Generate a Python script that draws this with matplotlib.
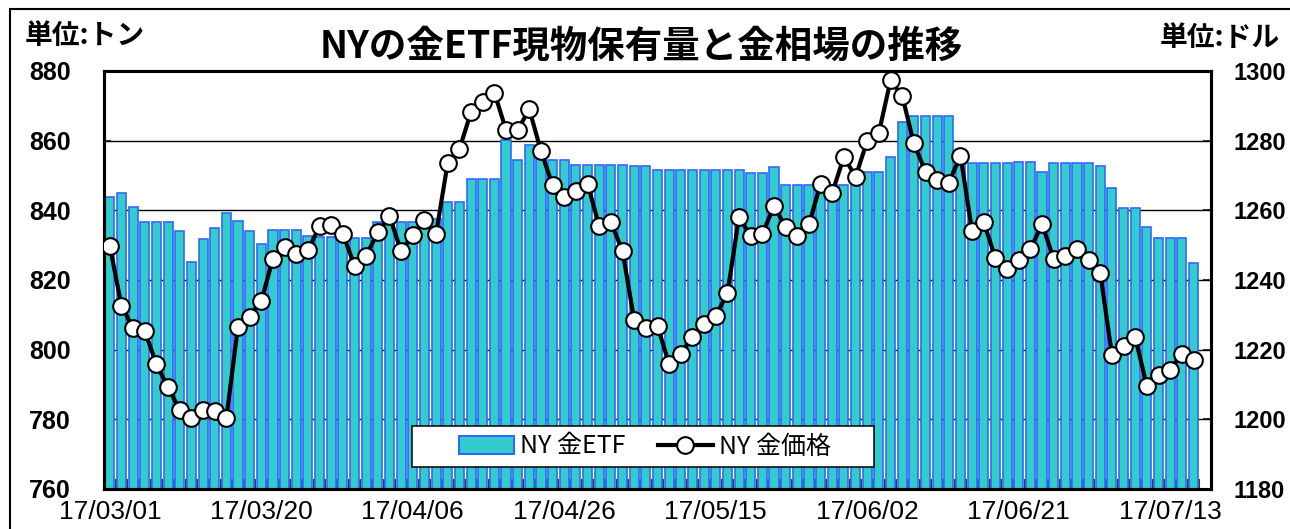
import matplotlib
matplotlib.use("Agg")
import matplotlib.pyplot as plt
import numpy as np
from matplotlib.lines import Line2D
from matplotlib.patches import Rectangle

plt.rcParams["font.family"] = ["Noto Sans CJK JP", "DejaVu Sans"]

# category labels shown every 13 trading days
date_labels = ["17/03/01", "17/03/20", "17/04/06", "17/04/26",
               "17/05/15", "17/06/02", "17/06/21", "17/07/13"]
label_step = 13
n_slots = 95

# NY gold ETF holdings (tons), left axis
etf_tons = [
    843.8, 845.1, 841.0, 836.6, 836.6, 836.6, 834.0, 825.3, 831.8, 834.9,
    839.2, 836.9, 834.0, 830.4, 834.4, 834.4, 834.4, 832.5, 832.3, 832.3,
    832.3, 832.1, 832.1, 836.6, 836.6, 836.6, 836.6, 836.6, 837.5, 842.5,
    842.5, 849.0, 849.0, 849.0, 860.3, 854.4, 858.8, 857.0, 854.4, 854.4,
    853.0, 853.0, 853.0, 853.0, 853.0, 852.7, 852.7, 851.7, 851.7, 851.7,
    851.7, 851.7, 851.7, 851.7, 851.7, 850.6, 850.6, 852.5, 847.2, 847.2,
    847.2, 847.2, 847.2, 847.2, 847.2, 851.1, 851.1, 855.3, 865.3, 867.1,
    867.1, 867.1, 867.1, 853.5, 853.7, 853.7, 853.7, 853.7, 854.0, 854.0,
    851.1, 853.7, 853.7, 853.7, 853.7, 852.6, 846.3, 840.8, 840.8, 835.2,
    832.1, 832.1, 832.1, 825.0,
]

# NY gold price (USD), right axis
gold_price = [
    1249.7, 1232.6, 1226.2, 1225.4, 1215.8, 1209.2, 1202.6, 1200.4, 1202.6, 1202.3,
    1200.4, 1226.6, 1229.5, 1234.0, 1246.1, 1249.4, 1247.5, 1248.5, 1255.5, 1255.7,
    1253.3, 1244.1, 1247.0, 1253.7, 1258.4, 1248.2, 1253.0, 1257.1, 1253.3, 1273.7,
    1277.6, 1288.2, 1291.2, 1293.8, 1283.1, 1283.1, 1289.0, 1277.0, 1267.2, 1263.8,
    1265.6, 1267.7, 1255.4, 1256.6, 1248.3, 1228.5, 1226.3, 1226.8, 1215.8, 1218.7,
    1223.7, 1227.5, 1229.7, 1236.2, 1258.1, 1252.6, 1253.3, 1261.2, 1255.2, 1252.5,
    1256.0, 1267.7, 1265.1, 1275.4, 1269.6, 1280.0, 1282.3, 1297.3, 1292.9, 1279.2,
    1271.1, 1268.6, 1267.9, 1275.7, 1254.0, 1256.6, 1246.3, 1243.2, 1245.6, 1248.9,
    1256.0, 1246.1, 1246.8, 1248.9, 1245.8, 1241.9, 1218.5, 1221.1, 1223.5, 1209.5,
    1212.7, 1214.3, 1218.8, 1216.9,
]

TEAL = "#33CCCC"
BLUE = "#3366FF"
W, H = 1290, 529

fig = plt.figure(figsize=(W / 100, H / 100), dpi=100)
ax = fig.add_axes([104 / W, 1 - 489 / H, (1211 - 104) / W, (489 - 71) / H])

x = np.arange(len(etf_tons))
ax.bar(x, np.array(etf_tons) - 760, bottom=760, width=0.78,
       color=TEAL, edgecolor=BLUE, linewidth=1.2, zorder=2)
ax.set_xlim(-0.5, n_slots - 0.5)
ax.set_ylim(760, 880)
ax.set_yticks(np.arange(760, 881, 20))
ax.yaxis.grid(True, color="black", linewidth=1.0)
ax.set_axisbelow(True)

ax.set_xticks(np.arange(len(date_labels)) * label_step)
ax.set_xticklabels(date_labels, family="Liberation Sans", fontsize=19)
ax.set_xticks(np.arange(-1, len(etf_tons)) + 0.5, minor=True)
ax.tick_params(axis="x", which="major", length=0, pad=8)
ax.tick_params(axis="x", which="minor", direction="in", length=7,
               width=1.1, color="black")
ax.tick_params(axis="y", direction="in", length=5, width=1.1, pad=24)
for lab in ax.get_yticklabels():
    lab.set_fontfamily("Liberation Sans")
    lab.set_fontweight("bold")
    lab.set_fontsize(18)

ax2 = ax.twinx()
ax2.plot(x, gold_price, color="black", linewidth=3, marker="o",
         markersize=12, markerfacecolor="white", markeredgecolor="black",
         markeredgewidth=1.5, zorder=3)
ax2.set_ylim(1180, 1300)
ax2.set_yticks(np.arange(1180, 1301, 20))
ax2.tick_params(axis="y", direction="in", length=6, width=1.1, pad=16)
for lab in ax2.get_yticklabels():
    lab.set_fontfamily("Liberation Sans")
    lab.set_fontweight("bold")
    lab.set_fontsize(17)

for a in (ax, ax2):
    for sp in a.spines.values():
        sp.set_linewidth(2.2)
        sp.set_color("black")

# legend with a square white box
box = Rectangle((412 / W, 1 - 467 / H), (874 - 412) / W, 41 / H,
                transform=fig.transFigure, facecolor="white",
                edgecolor="black", linewidth=1.1, zorder=4, clip_on=False)
ax2.add_artist(box)
handles = [
    Rectangle((0, 0), 1, 1, facecolor=TEAL, edgecolor=BLUE, linewidth=1.5),
    Line2D([], [], color="black", linewidth=3, marker="o", markersize=12,
           markerfacecolor="white", markeredgecolor="black",
           markeredgewidth=1.5),
]
ax2.legend(handles, ["NY 金ETF", "NY 金価格"], loc="center",
           bbox_to_anchor=(645 / W, 1 - 446.5 / H),
           bbox_transform=fig.transFigure, frameon=False, ncol=2,
           fontsize=18, handlelength=2.2, handletextpad=0.25,
           columnspacing=1.3)

fig.text(641 / W, 1 - 46 / H, "NYの金ETF現物保有量と金相場の推移",
         ha="center", va="center", fontsize=27, fontweight="bold")
fig.text(25 / W, 1 - 36 / H, "単位:トン", ha="left", va="center",
         fontsize=20, fontweight="bold")
fig.text(1160 / W, 1 - 38 / H, "単位:ドル", ha="left", va="center",
         fontsize=20, fontweight="bold")

# outer chart border (runs off the bottom and right edges)
fig.add_artist(Rectangle((10 / W, -0.1), 1.2, 1.1 - 9 / H,
                         transform=fig.transFigure, fill=False,
                         edgecolor="black", linewidth=1.5))

fig.savefig("out.png", dpi=100)
